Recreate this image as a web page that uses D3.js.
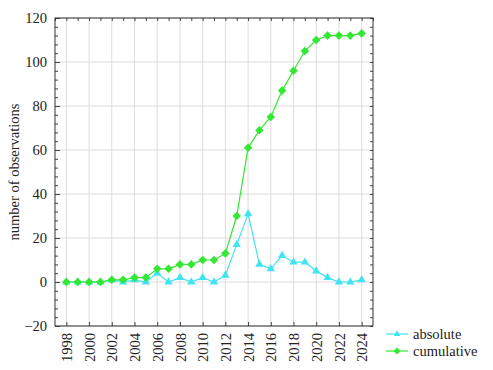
<!DOCTYPE html>
<html><head><meta charset="utf-8">
<script src="https://cdn.jsdelivr.net/npm/d3@7/dist/d3.min.js"></script>
<style>body{margin:0;background:#fff}svg{display:block}</style>
</head><body>
<svg id="c" width="493" height="370" font-family="Liberation Serif"></svg>
<script>
const years = [1998,1999,2000,2001,2002,2003,2004,2005,2006,2007,2008,2009,2010,2011,2012,2013,2014,2015,2016,2017,2018,2019,2020,2021,2022,2023,2024];
const absolute = [0,0,0,0,1,0,1,0,4,0,2,0,2,0,3,17,31,8,6,12,9,9,5,2,0,0,1];
const cumulative = [0,0,0,0,1,1,2,2,6,6,8,8,10,10,13,30,61,69,75,87,96,105,110,112,112,112,113];
const xTicks = [1998,2000,2002,2004,2006,2008,2010,2012,2014,2016,2018,2020,2022,2024];
const yTicks = [-20,0,20,40,60,80,100,120];
const seriesNames = ["absolute","cumulative"];

const FONT = "Liberation Serif";
const svg = d3.select("#c");
const L=55, R=373, T=18, B=326;
const x = d3.scaleLinear().domain([1997,2025]).range([L,R]);
const y = d3.scaleLinear().domain([-20,120]).range([B,T]);
const colA = "#40e4f0", colC = "#33e833";

// grid
svg.append("g").selectAll("line").data(xTicks).join("line")
  .attr("x1",d=>x(d)).attr("x2",d=>x(d)).attr("y1",T).attr("y2",B)
  .attr("stroke","#dcdcdc").attr("stroke-width",1);
svg.append("g").selectAll("line").data(yTicks).join("line")
  .attr("x1",L).attr("x2",R).attr("y1",d=>y(d)).attr("y2",d=>y(d))
  .attr("stroke","#dcdcdc").attr("stroke-width",1);

// axes
const yMinor = d3.range(-20,121,4);
const xMinor = d3.range(1997,2026,1);
function styleAx(g){g.select(".domain").remove();g.selectAll("line").attr("stroke","#444");
  g.attr("font-family",FONT).attr("font-size",14.5);
  g.selectAll("text").attr("font-family",FONT).attr("font-size",14.5).attr("fill","#222");}
svg.append("g").attr("transform",`translate(${L},0)`).call(d3.axisLeft(y).tickValues(yTicks).tickSize(-5).tickPadding(8).tickFormat(d3.format("d")))
  .call(styleAx);
svg.append("g").attr("transform",`translate(${L},0)`).call(d3.axisLeft(y).tickValues(yMinor).tickSize(-3).tickFormat("")).call(styleAx);
svg.append("g").attr("transform",`translate(${R},0)`).call(d3.axisRight(y).tickValues(yMinor).tickSize(-3).tickFormat("")).call(styleAx);
svg.append("g").attr("transform",`translate(0,${T})`).call(d3.axisTop(x).tickValues(xMinor).tickSize(-3).tickFormat("")).call(styleAx);
const xa = svg.append("g").attr("transform",`translate(0,${B})`).call(d3.axisBottom(x).tickValues(xTicks).tickSize(-4).tickFormat(d3.format("d"))).call(styleAx);
xa.selectAll("text").attr("transform","rotate(-90)").attr("text-anchor","end")
  .attr("x",-7).attr("y",0).attr("dy","0.35em");

// frame
svg.append("rect").attr("x",L).attr("y",T).attr("width",R-L).attr("height",B-T)
  .attr("fill","none").attr("stroke","#333").attr("stroke-width",1);

// y label
svg.append("text").attr("transform",`translate(19,${(T+B)/2}) rotate(-90)`).attr("text-anchor","middle")
  .attr("font-family",FONT).attr("font-size",14.5).attr("fill","#222").text("number of observations");

const line = d3.line().x((d,i)=>x(years[i])).y(d=>y(d));
const tri = d3.symbol().type(d3.symbolTriangle).size(30);
const dia = "M0,-4.3L4.3,0L0,4.3L-4.3,0Z";

svg.append("path").datum(absolute).attr("d",line).attr("fill","none").attr("stroke",colA).attr("stroke-width",1.2);
svg.append("g").selectAll("path").data(absolute).join("path").attr("d",tri)
  .attr("transform",(d,i)=>`translate(${x(years[i])},${y(d)})`).attr("fill",colA);
svg.append("path").datum(cumulative).attr("d",line).attr("fill","none").attr("stroke",colC).attr("stroke-width",1.2);
svg.append("g").selectAll("path").data(cumulative).join("path").attr("d",dia)
  .attr("transform",(d,i)=>`translate(${x(years[i])},${y(d)})`).attr("fill",colC);

// legend
const lg = svg.append("g");
[[colA,tri()],[colC,dia]].forEach(([c,s],i)=>{
  const yy = 334 + i*17;
  lg.append("line").attr("x1",386).attr("x2",408).attr("y1",yy).attr("y2",yy).attr("stroke",c).attr("stroke-width",1.2);
  lg.append("path").attr("d",s).attr("transform",`translate(397,${yy}) scale(0.8)`).attr("fill",c);
  lg.append("text").attr("x",413).attr("y",yy).attr("dy","0.35em").attr("font-family",FONT).attr("font-size",14.5).attr("fill","#222").text(seriesNames[i]);
});
</script>
</body></html>
